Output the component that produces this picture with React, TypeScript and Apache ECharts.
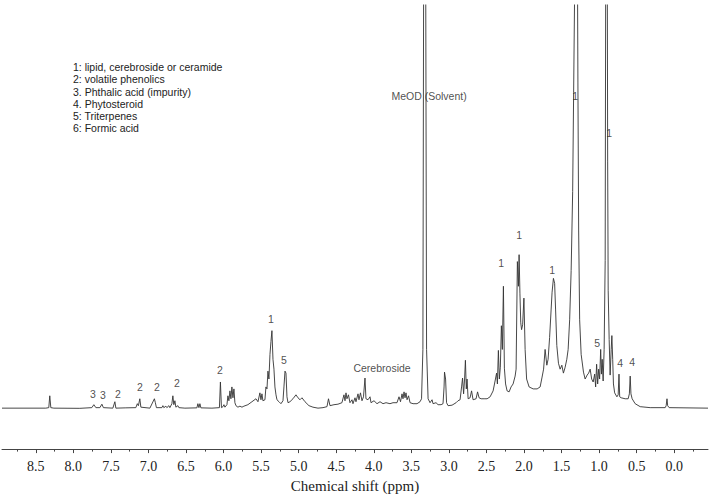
import { useEffect, useRef } from "react";
import * as echarts from "echarts";

// Chemical shift axis (ppm), drawn reversed as in NMR
const AXIS_MIN = -0.45;
const AXIS_MAX = 8.95;
const MAJOR_TICKS = [8.5, 8.0, 7.5, 7.0, 6.5, 6.0, 5.5, 5.0, 4.5, 4.0, 3.5, 3.0, 2.5, 2.0, 1.5, 1.0, 0.5, 0.0];
const MINOR_TICKS = [8.75, 8.25, 7.75, 7.25, 6.75, 6.25, 5.75, 5.25, 4.75, 4.25, 3.75, 3.25, 2.75, 2.25, 1.75, 1.25, 0.75, 0.25, -0.25];

// Spectrum: [ppm, intensity (a.u.)]
const AROMATIC: [number, number][] = [
  [8.95, 0.5], [8.367, 0.5], [8.327, 1], [8.314, 13], [8.3, 1], [8.26, 0.5], [7.914, 0.3],
  [7.754, 1], [7.727, 4], [7.7, 1], [7.647, 1], [7.62, 4.5], [7.6, 1], [7.474, 0.5], [7.447, 7],
  [7.434, 0.5], [7.301, 0.8], [7.168, 1], [7.148, 5], [7.134, 3], [7.115, 10], [7.101, 1.5],
  [6.981, 0.5], [6.921, 10], [6.908, 6], [6.894, 1], [6.821, 1], [6.808, 3], [6.795, 1],
  [6.768, 2.5], [6.755, 1], [6.728, 3], [6.715, 1], [6.688, 5], [6.675, 13], [6.662, 4],
  [6.648, 8], [6.635, 1.5], [6.608, 3], [6.595, 1], [6.515, 0.5], [6.355, 0.8], [6.342, 5],
  [6.328, 1], [6.315, 5], [6.302, 0.8], [6.155, 0.5],
];
const OLEFINIC: [number, number][] = [
  [6.055, 1], [6.042, 27], [6.028, 1], [6.008, 2], [5.995, 4], [5.982, 1.5], [5.955, 4],
  [5.942, 13], [5.929, 8], [5.915, 18], [5.902, 10], [5.889, 22], [5.875, 11], [5.862, 20],
  [5.849, 6], [5.835, 3], [5.809, 1.5], [5.782, 2.5], [5.755, 1.5], [5.729, 2.5], [5.676, 4],
  [5.622, 7], [5.569, 10], [5.542, 7], [5.516, 16], [5.502, 9], [5.489, 15], [5.476, 8],
  [5.449, 9], [5.436, 22], [5.422, 20], [5.409, 38], [5.396, 30], [5.382, 55], [5.369, 68],
  [5.356, 79], [5.342, 50], [5.329, 40], [5.316, 22], [5.302, 14], [5.289, 9], [5.262, 7],
  [5.236, 5], [5.209, 8], [5.196, 22], [5.182, 38], [5.169, 36], [5.156, 12], [5.142, 6],
  [5.116, 7], [5.076, 10], [5.036, 14], [5.009, 11], [4.982, 9], [4.956, 11], [4.916, 7],
  [4.863, 3], [4.81, 1.5], [4.743, 0.5], [4.676, 1], [4.623, 2], [4.603, 10], [4.583, 3],
];
const MIDFIELD: [number, number][] = [
  [4.53, 4], [4.477, 4.5], [4.424, 6], [4.397, 14], [4.383, 8], [4.37, 16], [4.357, 10],
  [4.337, 14], [4.317, 6], [4.29, 9], [4.277, 5], [4.25, 11], [4.237, 7], [4.21, 15],
  [4.197, 9], [4.177, 16], [4.157, 8], [4.137, 12], [4.117, 31], [4.104, 10], [4.077, 9],
  [4.05, 12], [4.037, 6], [3.997, 8], [3.957, 5], [3.917, 7], [3.877, 5], [3.837, 6],
  [3.784, 5], [3.744, 6], [3.691, 6], [3.664, 12], [3.644, 7], [3.624, 15], [3.611, 10],
  [3.597, 17], [3.584, 11], [3.571, 16], [3.557, 9], [3.537, 13], [3.517, 6], [3.477, 5],
  [3.424, 5], [3.384, 7], [3.364, 10], [3.346, 60], [3.334, 520], [3.311, 520], [3.297, 60],
  [3.277, 10], [3.251, 6], [3.224, 9], [3.211, 5], [3.171, 6], [3.144, 4], [3.104, 4],
  [3.078, 5], [3.064, 22], [3.058, 37], [3.044, 30], [3.031, 6], [3.011, 3], [2.958, 3.5],
  [2.904, 6], [2.878, 8], [2.851, 9], [2.831, 22], [2.818, 31], [2.804, 15], [2.791, 30],
  [2.78, 49], [2.768, 20], [2.758, 30], [2.744, 10], [2.718, 11], [2.698, 18], [2.678, 9],
  [2.638, 10], [2.618, 17], [2.598, 11], [2.571, 10], [2.531, 10], [2.491, 10],
];
const ALIPHATIC: [number, number][] = [
  [2.451, 12], [2.411, 18], [2.385, 28], [2.365, 36], [2.354, 25], [2.341, 59], [2.328, 30],
  [2.315, 42], [2.301, 84], [2.288, 60], [2.274, 124], [2.261, 41], [2.245, 25], [2.225, 18],
  [2.198, 17], [2.172, 22], [2.145, 25], [2.118, 33], [2.105, 40], [2.088, 149], [2.074, 124],
  [2.065, 156], [2.054, 117], [2.043, 87], [2.032, 80], [2.018, 85], [2.001, 112], [1.985, 60],
  [1.965, 30], [1.932, 22], [1.878, 20], [1.825, 20], [1.785, 22], [1.759, 32], [1.739, 40],
  [1.719, 60], [1.696, 44], [1.679, 50], [1.659, 72], [1.639, 100], [1.626, 118], [1.608, 132],
  [1.592, 127], [1.579, 100], [1.563, 64], [1.541, 46], [1.519, 40], [1.496, 44], [1.475, 36],
  [1.452, 42], [1.43, 50], [1.412, 60], [1.392, 90], [1.372, 140], [1.352, 220], [1.339, 320],
  [1.326, 420], [1.312, 520], [1.292, 520], [1.282, 330], [1.272, 180], [1.259, 90],
  [1.239, 55], [1.208, 37], [1.186, 30], [1.159, 34], [1.139, 36], [1.119, 40], [1.099, 30],
  [1.079, 27], [1.059, 35], [1.046, 22], [1.033, 45], [1.019, 25], [1.006, 40], [0.993, 30],
  [0.979, 60], [0.969, 35], [0.959, 50], [0.946, 28], [0.933, 60], [0.919, 150], [0.91, 520],
  [0.893, 520], [0.886, 250], [0.879, 120], [0.866, 70], [0.853, 34], [0.839, 60], [0.83, 74],
  [0.819, 50], [0.809, 25], [0.793, 16], [0.763, 12], [0.746, 14], [0.735, 35], [0.726, 12],
  [0.706, 11], [0.653, 10], [0.613, 10], [0.597, 15], [0.586, 33], [0.576, 15], [0.56, 10],
  [0.52, 5], [0.453, 2], [0.32, 1], [0.12, 1], [0.107, 3], [0.096, 10], [0.087, 3],
  [0.067, 1], [-0.45, 0.5],
];

// Peak assignments placed at data coordinates: ppm, height, text
const ANNOT_PPM = [7.74, 7.607, 7.407, 7.114, 6.888, 6.621, 6.049, 5.369, 5.196, 3.89, 3.264, 2.305, 2.065, 1.625, 1.319, 0.866, 1.026, 0.719, 0.56];
const ANNOT_HEIGHT = [15, 14, 15, 22, 22, 26, 39, 91, 49, 41, 317, 148, 176, 140, 317, 279, 67, 46, 47];
const ANNOT_TEXT = ["3", "3", "2", "2", "2", "2", "2", "1", "5", "Cerebroside", "MeOD (Solvent)", "1", "1", "1", "1", "1", "5", "4", "4"];

const LEGEND_LINES = [
  "1: lipid, cerebroside or ceramide",
  "2: volatile phenolics",
  "3. Phthalic acid (impurity)",
  "4. Phytosteroid",
  "5: Triterpenes",
  "6: Formic acid",
];

const AXIS_TITLE = "Chemical shift (ppm)";

export default function App() {
  const ref = useRef<HTMLDivElement>(null);
  useEffect(() => {
    if (!ref.current) return;
    const chart = echarts.init(ref.current, null, { renderer: "svg" });
    const spectrum = [...AROMATIC, ...OLEFINIC, ...MIDFIELD, ...ALIPHATIC];
    const annotations = ANNOT_PPM.map((p, i) => [p, ANNOT_HEIGHT[i], ANNOT_TEXT[i]]);
    chart.setOption({
      animation: false,
      backgroundColor: "#ffffff",
      grid: { left: 2, right: 4, top: 5, bottom: 43 },
      xAxis: [
        {
          type: "value",
          position: "bottom",
          min: AXIS_MIN,
          max: AXIS_MAX,
          inverse: true,
          splitLine: { show: false },
          axisLine: { show: true, onZero: false, lineStyle: { color: "#444", width: 1 } },
          axisTick: { show: true, customValues: MAJOR_TICKS, length: 4, lineStyle: { color: "#444" } },
          axisLabel: {
            show: true,
            customValues: MAJOR_TICKS,
            formatter: (v: number) => v.toFixed(1),
            color: "#222",
            fontFamily: "Liberation Serif",
            fontSize: 14,
            margin: 10,
          },
          name: AXIS_TITLE,
          nameLocation: "middle",
          nameGap: 27,
          nameTextStyle: { color: "#222", fontFamily: "Liberation Serif", fontSize: 15 },
        },
        {
          type: "value",
          position: "bottom",
          offset: 0,
          min: AXIS_MIN,
          max: AXIS_MAX,
          inverse: true,
          splitLine: { show: false },
          axisLine: { show: false, onZero: false },
          axisTick: { show: true, customValues: MINOR_TICKS, length: 2.5, lineStyle: { color: "#444" } },
          axisLabel: { show: false },
        },
      ],
      yAxis: { type: "value", min: -41, max: 409, show: false },
      graphic: [
        {
          type: "text",
          left: 73,
          top: 61,
          style: {
            text: LEGEND_LINES.join("\n"),
            font: "10.5px 'Liberation Sans'",
            lineHeight: 12.2,
            fill: "#222",
          },
        },
      ],
      series: [
        {
          type: "line",
          data: spectrum,
          showSymbol: false,
          symbol: "none",
          clip: true,
          lineStyle: { color: "#333", width: 0.9 },
          silent: true,
          z: 2,
        },
        {
          type: "scatter",
          data: annotations,
          symbolSize: 0,
          silent: true,
          z: 3,
          itemStyle: { color: "#222" },
          label: {
            show: true,
            position: "inside",
            formatter: (p: any) => p.data[2],
            color: "#222",
            textBorderWidth: 0,
            fontFamily: "Liberation Sans",
            fontSize: 10.5,
          },
        },
      ],
    });
    return () => chart.dispose();
  }, []);
  return (
    <div
      ref={ref}
      style={{ position: "fixed", left: 0, top: 0, width: 712, height: 498, background: "#fff" }}
    />
  );
}
